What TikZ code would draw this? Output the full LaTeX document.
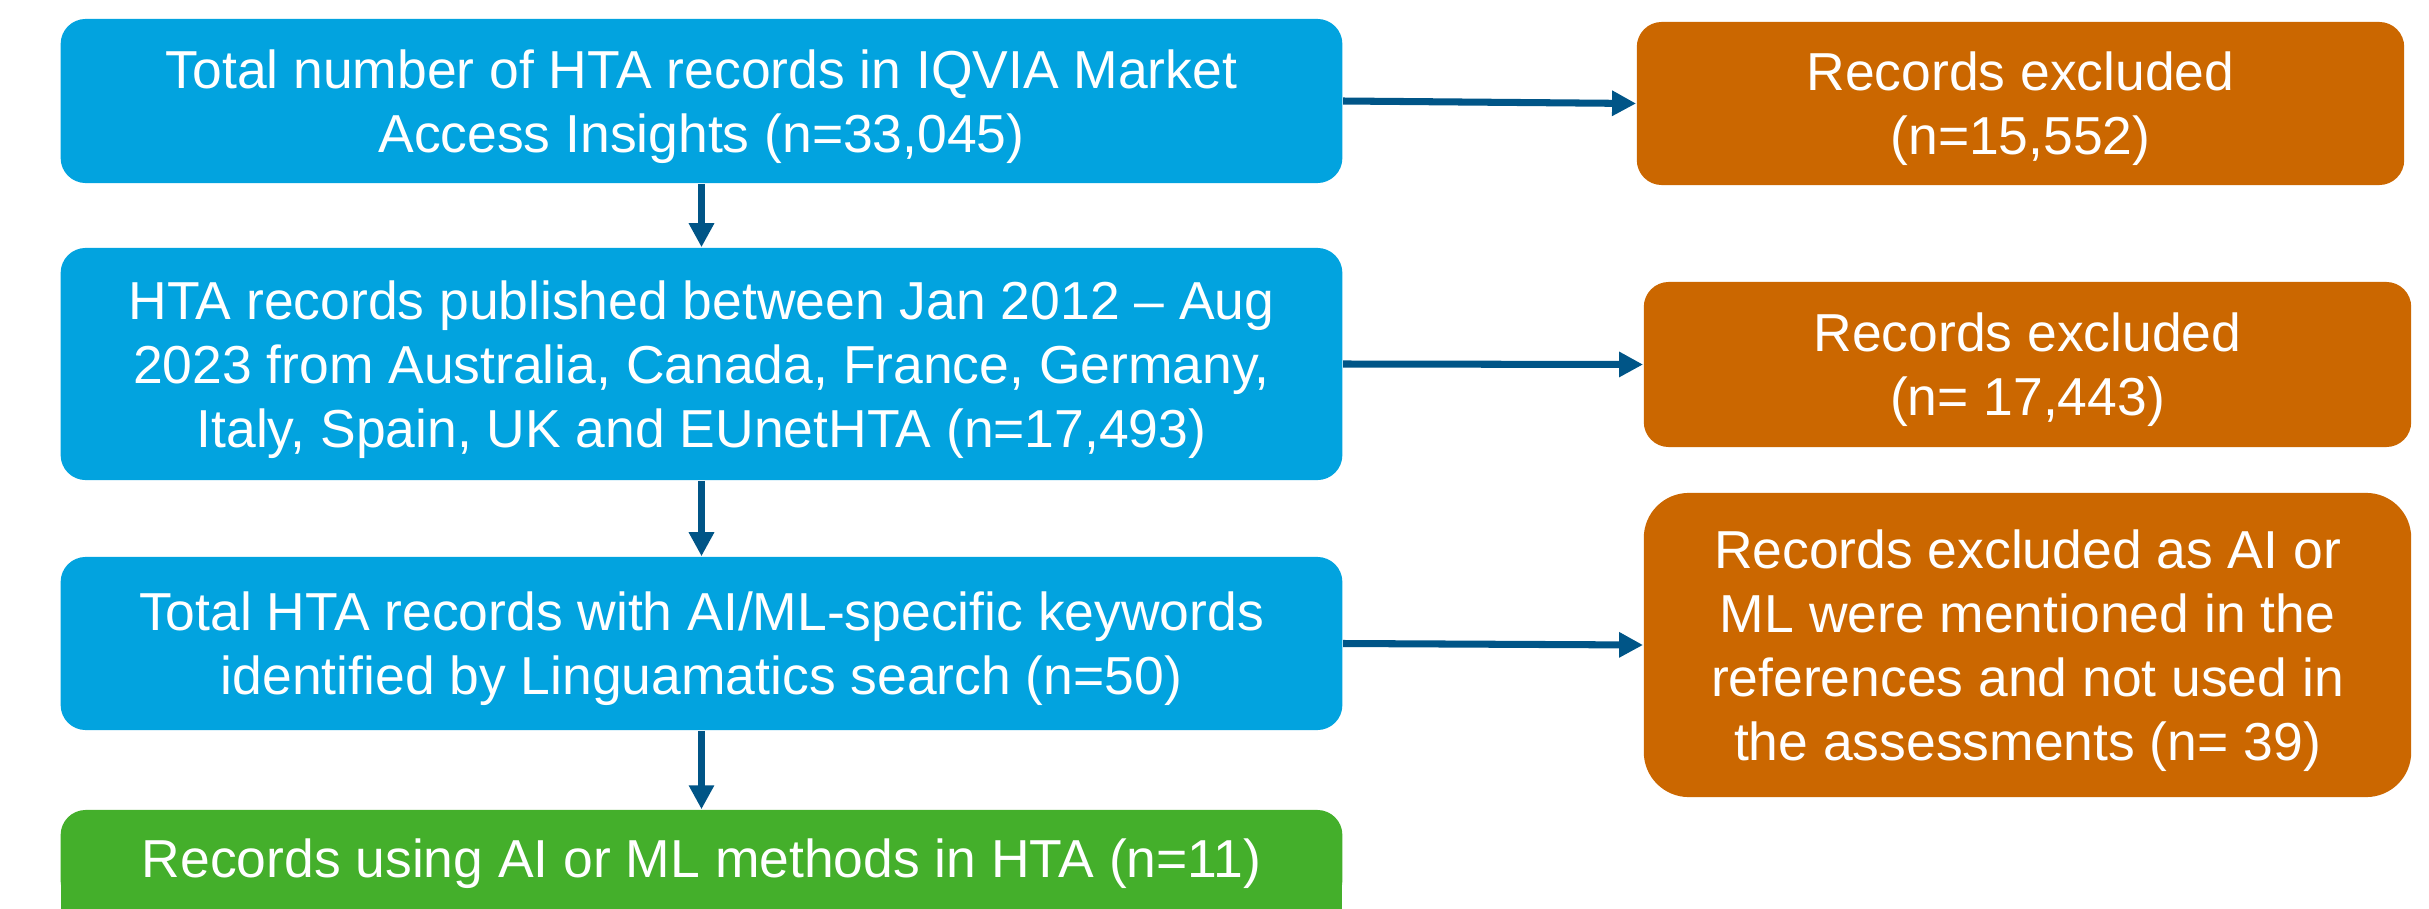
\documentclass[tikz,border=0pt]{standalone}
\usepackage{fontspec}
\setmainfont{Liberation Sans}
\usetikzlibrary{arrows.meta}
\definecolor{hta}{HTML}{02A3DF}
\definecolor{excl}{HTML}{CB6700}
\definecolor{kept}{HTML}{44AF2B}
\definecolor{flow}{HTML}{005587}

\begin{document}
\begin{tikzpicture}[x=0.01cm,y=-0.01cm,
  box/.style={rounded corners=0.25cm, text=white, align=center, inner sep=0pt,
    font=\fontsize{15.2pt}{18.14pt}\selectfont, text depth=0cm},
  one/.style={text height=0.385cm},
  two/.style={text height=1.025cm},
  three/.style={text height=1.665cm},
  four/.style={text height=2.305cm},
  stage/.style={box, fill=hta, minimum width=12.81cm},
  drop/.style={box, fill=excl, minimum width=7.67cm},
  link/.style={draw=flow, line width=2pt, -{Triangle[length=0.24cm,width=0.24cm]}}]
\useasboundingbox (0,0) rectangle (2429,909);

% screening stages
\node[stage, two, minimum height=1.64cm] (s1) at (701.5,101)
  {Total number of HTA records in IQVIA Market\\Access Insights (n=33,045)};
\node[stage, three, minimum height=2.32cm] (s2) at (701.5,364)
  {HTA records published between Jan 2012 – Aug\\2023 from Australia, Canada, France, Germany,\\Italy, Spain, UK and EUnetHTA (n=17,493)};
\node[stage, two, minimum height=1.73cm] (s3) at (701.5,643.5)
  {Total HTA records with AI/ML-specific keywords\\identified by Linguamatics search (n=50)};

% final box runs off the lower edge, so its bottom corners are square
\fill[kept] (61,870) rectangle (1342,909);
\node[box, one, fill=kept, minimum width=12.81cm, minimum height=0.96cm] (fin) at (701.5,858)
  {Records using AI or ML methods in HTA (n=11)};

% exclusions
\node[drop, two, minimum height=1.63cm] (r1) at (2020.5,103.5)
  {Records excluded\\(n=15,552)};
\node[drop, two, minimum height=1.65cm] (r2) at (2027.5,364.5)
  {Records excluded\\(n= 17,443)};
\node[drop, four, minimum height=3.04cm, rounded corners=0.45cm] (r3) at (2027.5,645)
  {Records excluded as AI or\\ML were mentioned in the\\references and not used in\\the assessments (n= 39)};

% connectors
\draw[link] (s1) -- (s2);
\draw[link] (s2) -- (s3);
\draw[link] (s3) -- (fin);
\draw[link] (s1.east) -- (r1.west);
\draw[link] (s2.east) -- (r2.west);
\draw[link] (s3.east) -- (r3.west);
\end{tikzpicture}
\end{document}
